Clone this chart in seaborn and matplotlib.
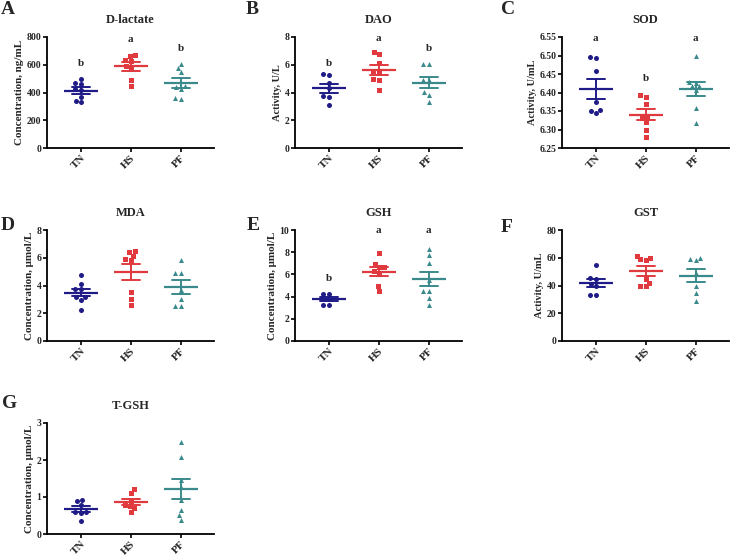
import numpy as np
import pandas as pd
import seaborn as sns
import matplotlib.pyplot as plt

sns.set_style("white")
plt.rcParams['font.family'] = ['Liberation Serif', 'DejaVu Serif']
plt.rcParams['font.weight'] = 'bold'
plt.rcParams['axes.labelweight'] = 'bold'
plt.rcParams['axes.titleweight'] = 'bold'

groups = ["TN", "HS", "PF"]
colors = ["#1f1b87", "#e03a3e", "#3a8a8c"]
markers = ["o", "s", "^"]

# D-lactate
dlac_tn = [500, 462, 470, 425, 415, 368, 330, 342]
dlac_hs = [637, 663, 673, 627, 591, 577, 488, 445]
dlac_pf = [608, 575, 545, 450, 440, 428, 358, 355]
# DAO
dao_tn = [5.27, 5.34, 4.68, 4.30, 3.73, 3.66, 3.09]
dao_hs = [6.94, 6.77, 6.15, 5.58, 5.50, 4.99, 4.92, 4.16]
dao_pf = [6.06, 6.06, 4.87, 4.87, 4.01, 3.85, 3.30]
# SOD
sod_tn = [6.493, 6.495, 6.457, 6.374, 6.352, 6.349, 6.344]
sod_hs = [6.393, 6.389, 6.369, 6.335, 6.331, 6.320, 6.299, 6.281]
sod_pf = [6.498, 6.429, 6.427, 6.417, 6.417, 6.408, 6.357, 6.317]
# MDA
mda_tn = [4.73, 4.13, 3.75, 3.75, 3.17, 3.17, 2.98, 2.20]
mda_hs = [6.49, 6.40, 6.16, 5.89, 5.85, 3.53, 3.03, 2.63]
mda_pf = [5.85, 4.89, 4.89, 3.70, 3.00, 2.50, 2.55]
# GSH
gsh_tn = [4.27, 4.27, 3.79, 3.79, 3.22, 3.22]
gsh_hs = [7.91, 6.96, 6.66, 6.66, 6.27, 6.06, 4.93, 4.48]
gsh_pf = [8.27, 7.76, 7.01, 5.52, 4.48, 4.48, 3.88, 3.22]
# GST
gst_tn = [54.9, 45.3, 44.6, 41.1, 39.9, 33.4, 33.4]
gst_hs = [61.5, 59.7, 58.5, 59.0, 44.6, 39.4, 39.9, 42.0]
gst_pf = [59.2, 58.5, 59.7, 48.9, 39.4, 34.6, 29.1]
# T-GSH
tgsh_tn = [0.92, 0.88, 0.79, 0.60, 0.60, 0.56, 0.34]
tgsh_hs = [1.21, 1.12, 0.90, 0.78, 0.76, 0.69, 0.60]
tgsh_pf = [2.48, 2.09, 1.45, 1.28, 0.92, 0.64, 0.51, 0.38]

titles = ["D-lactate", "DAO", "SOD", "MDA", "GSH", "GST", "T-GSH"]
ylabels = ["Concentration, ng/mL", "Activity, U/L", "Activity, U/mL",
           "Concentration, \u03bcmol/L", "Concentration, \u03bcmol/L",
           "Activity, U/mL", "Concentration, \u03bcmol/L"]
panel_letters = ["A", "B", "C", "D", "E", "F", "G"]
yticks = [np.arange(0, 801, 200), np.arange(0, 9, 2), np.arange(6.25, 6.551, 0.05),
          np.arange(0, 9, 2), np.arange(0, 11, 2), np.arange(0, 81, 20), np.arange(0, 4, 1)]
sig_letters = [["b", "a", "b"], ["b", "a", "b"], ["a", "b", "a"], None,
               ["b", "a", "a"], None, None]
sig_y = [[610, 785, 717], [6.10, 7.89, 7.17], [6.547, 6.437, 6.547], None,
         [5.67, 9.94, 9.94], None, None]

data = [(dlac_tn, dlac_hs, dlac_pf), (dao_tn, dao_hs, dao_pf), (sod_tn, sod_hs, sod_pf),
        (mda_tn, mda_hs, mda_pf), (gsh_tn, gsh_hs, gsh_pf), (gst_tn, gst_hs, gst_pf),
        (tgsh_tn, tgsh_hs, tgsh_pf)]

W, H = 733, 559
fig = plt.figure(figsize=(W / 100, H / 100), dpi=100)

lefts = [47, 295, 562]
tops = [37, 230, 423]
ax_w, ax_h = 167, 111
letter_pos = [(8, 10), (252, 10), (508, 10), (8, 225), (253, 225), (507, 227), (10, 403)]

for i, (title, vals) in enumerate(zip(titles, data)):
    r, c = divmod(i, 3)
    ax = fig.add_axes([lefts[c] / W, 1 - (tops[r] + ax_h) / H, ax_w / W, ax_h / H])
    df = pd.DataFrame({"group": np.repeat(groups, [len(v) for v in vals]),
                       "value": np.concatenate(vals)})
    for g, col, m in zip(groups, colors, markers):
        sub = df[df.group == g]
        sns.swarmplot(data=sub, x="group", y="value", order=groups, color=col,
                      marker=m, size=3.6, linewidth=0, ax=ax)
    sns.pointplot(data=df, x="group", y="value", hue="group", order=groups,
                  hue_order=groups, palette=colors, errorbar="se", capsize=0.36,
                  markers="_", markersize=24, markeredgewidth=1.6, linestyle="none",
                  err_kws={"linewidth": 1.4}, legend=False, ax=ax)
    yt = yticks[i]
    ax.set_ylim(yt[0], yt[-1])
    ax.set_yticks(yt)
    if i == 2:
        ax.set_yticklabels([f"{v:.2f}" for v in yt])
    ax.set_xlim(-0.67, 2.67)
    sns.despine(ax=ax)
    for s in ["left", "bottom"]:
        ax.spines[s].set_linewidth(1.3)
        ax.spines[s].set_color("black")
    ax.tick_params(axis="both", direction="out", length=3, width=1.2, color="black",
                   labelsize=7, pad=1)
    ax.tick_params(axis="y", left=True)
    ax.tick_params(axis="x", bottom=True, labelsize=8)
    plt.setp(ax.get_xticklabels(), rotation=45, ha="right", rotation_mode="anchor",
             fontweight="bold")
    plt.setp(ax.get_yticklabels(), fontweight="bold")
    ax.set_xlabel("")
    ax.set_ylabel(ylabels[i], fontsize=8 if ylabels[i].startswith("Conc") else 7.5,
                  labelpad=2)
    ax.set_title(title, fontsize=9, pad=10)
    if sig_letters[i]:
        for k, (lt, yy) in enumerate(zip(sig_letters[i], sig_y[i])):
            ax.text(k, yy, lt, ha="center", va="center", fontsize=8, fontweight="bold")
    lx, ly = letter_pos[i]
    fig.text(lx / W, 1 - ly / H, panel_letters[i], ha="center", va="center",
             fontsize=14, fontweight="bold")

fig.savefig("out.png", dpi=100)
